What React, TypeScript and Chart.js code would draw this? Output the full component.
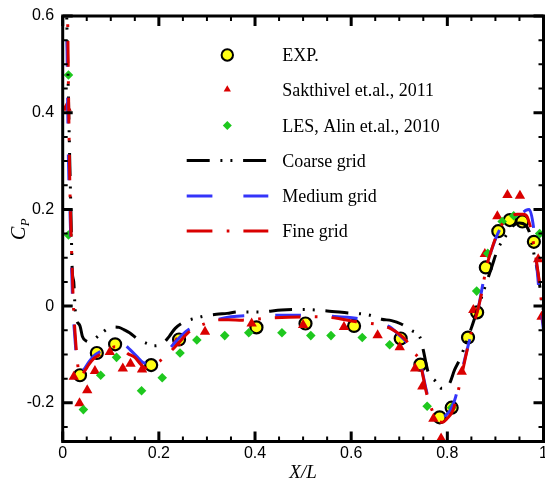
import React, { useEffect, useRef } from 'react';
import { Chart, registerables } from 'chart.js';

Chart.register(...registerables);

// ---------- data ----------
const X_TICKS = [0, 0.2, 0.4, 0.6, 0.8, 1];
const Y_TICKS = [-0.2, 0, 0.2, 0.4, 0.6];
const X_MINOR = [0, 0.05, 0.1, 0.15, 0.2, 0.25, 0.3, 0.35, 0.4, 0.45, 0.5, 0.55, 0.6, 0.65, 0.7, 0.75, 0.8, 0.85, 0.9, 0.95, 1];
const Y_MINOR = [-0.25, -0.2, -0.15, -0.1, -0.05, 0, 0.05, 0.1, 0.15, 0.2, 0.25, 0.3, 0.35, 0.4, 0.45, 0.5, 0.55, 0.6];

const EXP_X = [0.036, 0.071, 0.109, 0.184, 0.242, 0.403, 0.505, 0.606, 0.703, 0.744, 0.784, 0.809, 0.843, 0.862, 0.880, 0.906, 0.930, 0.956, 0.980];
const EXP_Y = [-0.143, -0.097, -0.079, -0.122, -0.069, -0.044, -0.036, -0.041, -0.067, -0.121, -0.230, -0.210, -0.065, -0.013, 0.080, 0.155, 0.178, 0.175, 0.133];

const SAK_X = [0.008, 0.023, 0.035, 0.051, 0.067, 0.098, 0.125, 0.141, 0.165, 0.236, 0.296, 0.393, 0.500, 0.585, 0.655, 0.701, 0.733, 0.748, 0.771, 0.787, 0.830, 0.854, 0.878, 0.904, 0.925, 0.951, 0.989, 0.996];
const SAK_Y = [0.410, -0.146, -0.201, -0.174, -0.134, -0.095, -0.129, -0.119, -0.131, -0.076, -0.053, -0.036, -0.039, -0.043, -0.060, -0.085, -0.129, -0.166, -0.233, -0.274, -0.136, -0.008, 0.108, 0.186, 0.230, 0.228, 0.097, -0.022];

const LES_X = [0.012, 0.012, 0.043, 0.079, 0.112, 0.164, 0.207, 0.244, 0.279, 0.337, 0.387, 0.456, 0.516, 0.558, 0.623, 0.680, 0.758, 0.809, 0.861, 0.884, 0.914, 0.938, 0.992];
const LES_Y = [0.478, 0.147, -0.214, -0.143, -0.106, -0.175, -0.148, -0.097, -0.070, -0.061, -0.055, -0.055, -0.061, -0.061, -0.065, -0.080, -0.207, -0.210, 0.031, 0.109, 0.175, 0.187, 0.150];

const CRS_X = [0.004, 0.008, 0.011, 0.014, 0.017, 0.020, 0.023, 0.025, 0.027, 0.036, 0.041, 0.049, 0.057, 0.070, 0.082, 0.095, 0.107, 0.117, 0.128, 0.139, 0.157, 0.175, 0.190, 0.199, 0.212, 0.222, 0.234, 0.254, 0.272, 0.292, 0.320, 0.342, 0.365, 0.410, 0.455, 0.500, 0.550, 0.594, 0.620, 0.639, 0.663, 0.684, 0.704, 0.725, 0.745, 0.750, 0.760, 0.775, 0.788, 0.797, 0.806, 0.815, 0.825, 0.836, 0.850, 0.865, 0.880, 0.892, 0.905, 0.920, 0.935, 0.950, 0.962, 0.970, 0.975, 0.982, 0.988, 0.992, 1.000];
const CRS_Y = [0.900, 0.620, 0.480, 0.330, 0.200, 0.070, 0.050, 0.010, -0.020, -0.041, -0.063, -0.072, -0.074, -0.065, -0.055, -0.046, -0.043, -0.044, -0.049, -0.055, -0.069, -0.077, -0.082, -0.081, -0.074, -0.062, -0.046, -0.032, -0.026, -0.021, -0.017, -0.015, -0.012, -0.012, -0.008, -0.007, -0.010, -0.014, -0.016, -0.019, -0.027, -0.030, -0.037, -0.050, -0.069, -0.091, -0.136, -0.155, -0.170, -0.170, -0.157, -0.132, -0.112, -0.084, -0.045, 0.000, 0.045, 0.080, 0.118, 0.143, 0.165, 0.172, 0.168, 0.155, 0.133, 0.099, 0.070, 0.043, -0.010];

const MED_X = [0.004, 0.008, 0.010, 0.012, 0.015, 0.018, 0.021, 0.025, 0.029, 0.035, 0.045, 0.055, 0.065, 0.075, 0.084, 0.095, 0.104, 0.115, 0.129, 0.140, 0.155, 0.168, 0.181, 0.200, 0.223, 0.240, 0.260, 0.290, 0.320, 0.350, 0.420, 0.500, 0.560, 0.610, 0.650, 0.680, 0.700, 0.720, 0.743, 0.750, 0.760, 0.772, 0.784, 0.798, 0.815, 0.830, 0.845, 0.862, 0.880, 0.895, 0.910, 0.925, 0.940, 0.955, 0.963, 0.970, 0.980, 0.985, 0.992, 1.000];
const MED_Y = [0.900, 0.620, 0.450, 0.300, 0.200, 0.100, 0.000, -0.060, -0.110, -0.142, -0.130, -0.115, -0.103, -0.096, -0.091, -0.082, -0.074, -0.075, -0.080, -0.090, -0.105, -0.117, -0.118, -0.104, -0.087, -0.068, -0.050, -0.037, -0.028, -0.022, -0.019, -0.019, -0.021, -0.025, -0.033, -0.043, -0.060, -0.080, -0.112, -0.145, -0.188, -0.210, -0.229, -0.225, -0.195, -0.135, -0.075, -0.015, 0.075, 0.125, 0.160, 0.178, 0.186, 0.192, 0.198, 0.200, 0.157, 0.095, 0.019, -0.050];

const FINE_X = [0.006, 0.010, 0.012, 0.014, 0.016, 0.019, 0.022, 0.026, 0.030, 0.036, 0.045, 0.055, 0.065, 0.078, 0.090, 0.100, 0.109, 0.118, 0.126, 0.135, 0.150, 0.162, 0.172, 0.180, 0.195, 0.213, 0.230, 0.245, 0.261, 0.280, 0.300, 0.317, 0.345, 0.374, 0.424, 0.470, 0.520, 0.570, 0.608, 0.635, 0.660, 0.685, 0.700, 0.715, 0.730, 0.743, 0.750, 0.757, 0.767, 0.778, 0.790, 0.800, 0.812, 0.825, 0.838, 0.850, 0.862, 0.872, 0.880, 0.893, 0.906, 0.918, 0.930, 0.945, 0.958, 0.966, 0.971, 0.975, 0.980, 0.985, 0.990, 0.995, 1.000];
const FINE_Y = [0.900, 0.620, 0.450, 0.300, 0.200, 0.100, 0.010, -0.060, -0.110, -0.145, -0.135, -0.120, -0.108, -0.100, -0.092, -0.087, -0.084, -0.085, -0.090, -0.098, -0.106, -0.120, -0.128, -0.127, -0.118, -0.105, -0.088, -0.072, -0.055, -0.043, -0.035, -0.029, -0.028, -0.029, -0.025, -0.023, -0.022, -0.025, -0.032, -0.035, -0.039, -0.048, -0.058, -0.072, -0.095, -0.115, -0.148, -0.181, -0.212, -0.236, -0.240, -0.232, -0.215, -0.165, -0.105, -0.053, -0.013, 0.030, 0.075, 0.120, 0.155, 0.175, 0.185, 0.190, 0.190, 0.185, 0.170, 0.154, 0.125, 0.095, 0.060, 0.015, -0.040];

const LABELS = ['EXP.', 'Sakthivel et.al., 2011', 'LES, Alin et.al., 2010', 'Coarse grid', 'Medium grid', 'Fine grid'];

const pts = (xs: number[], ys: number[]) => xs.map((x, i) => ({ x, y: ys[i] }));

// ---------- styles ----------
const RED = 'rgb(218,0,0)';
const BLUE = 'rgb(52,52,250)';
const GREEN = 'rgb(30,200,30)';
const YELLOW = 'rgb(255,255,20)';
const DASH_COARSE = [23, 10.7, 2, 8, 2, 10.7];
const DASH_MED = [25.7, 31];
const DASH_FINE = [25.7, 14.3, 2.7, 14];

const fmt = (v: number) => String(Math.round(v * 10) / 10);

const decor = {
  id: 'decor',
  afterDraw(chart: any) {
    const { ctx, chartArea: a, scales } = chart;
    const sx = scales.x;
    const sy = scales.y;
    ctx.save();
    ctx.strokeStyle = '#000';
    ctx.lineCap = 'butt';
    // ticks
    X_MINOR.forEach((v, i) => {
      const major = i % 4 === 0;
      const len = major ? 10 : 5;
      ctx.lineWidth = major ? 3 : 2;
      const px = sx.getPixelForValue(v);
      ctx.beginPath();
      ctx.moveTo(px, a.bottom);
      ctx.lineTo(px, a.bottom - len);
      ctx.moveTo(px, a.top);
      ctx.lineTo(px, a.top + len);
      ctx.stroke();
    });
    Y_MINOR.forEach((v) => {
      const major = Y_TICKS.some((t) => Math.abs(t - v) < 1e-6);
      const len = major ? 10 : 5;
      ctx.lineWidth = major ? 3 : 2;
      const py = sy.getPixelForValue(v);
      ctx.beginPath();
      ctx.moveTo(a.left, py);
      ctx.lineTo(a.left + len, py);
      ctx.moveTo(a.right, py);
      ctx.lineTo(a.right - len, py);
      ctx.stroke();
    });
    // frame
    ctx.lineWidth = 3;
    ctx.strokeRect(a.left, a.top, a.right - a.left, a.bottom - a.top);

    // x tick labels
    ctx.fillStyle = '#000';
    ctx.font = '16px "Liberation Sans"';
    ctx.textAlign = 'center';
    ctx.textBaseline = 'middle';
    X_TICKS.forEach((v) => {
      ctx.fillText(fmt(v), sx.getPixelForValue(v), 454);
    });

    // axis titles
    ctx.textAlign = 'center';
    ctx.textBaseline = 'alphabetic';
    ctx.font = 'italic 19px "Liberation Serif"';
    ctx.fillText('X/L', (a.left + a.right) / 2, 477.5);

    ctx.save();
    ctx.translate(25, 240);
    ctx.rotate(-Math.PI / 2);
    ctx.textAlign = 'left';
    ctx.font = 'italic 20px "Liberation Serif"';
    ctx.fillText('C', 0, 0);
    const cw = ctx.measureText('C').width;
    ctx.font = 'italic 13px "Liberation Serif"';
    ctx.fillText('P', cw + 0.5, 3.5);
    ctx.restore();

    // legend
    const rows = [55, 89.5, 125.5, 160.5, 196, 231];
    const mx = 227.3;
    const lx1 = 186.7;
    const lx2 = 268.3;
    const tx = 282.3;
    const ds = chart.data.datasets;
    ctx.font = '18px "Liberation Serif"';
    ctx.textAlign = 'left';
    ds.forEach((d: any, i: number) => {
      const y = rows[i];
      ctx.fillStyle = '#000';
      ctx.fillText(d.label, tx, y + 6);
      if (d.showLine) {
        ctx.save();
        ctx.strokeStyle = d.borderColor;
        ctx.lineWidth = 3;
        ctx.setLineDash(d.borderDash);
        ctx.beginPath();
        ctx.moveTo(lx1, y);
        ctx.lineTo(lx2, y);
        ctx.stroke();
        ctx.restore();
      } else if (d.pointStyle === 'circle') {
        ctx.beginPath();
        ctx.arc(mx, y, 5.7, 0, Math.PI * 2);
        ctx.fillStyle = d.backgroundColor;
        ctx.fill();
        ctx.lineWidth = 2;
        ctx.strokeStyle = '#000';
        ctx.stroke();
      } else if (d.pointStyle === 'triangle') {
        const r = 4.2;
        ctx.beginPath();
        ctx.moveTo(mx, y - r);
        ctx.lineTo(mx + r * 0.866, y + r * 0.5);
        ctx.lineTo(mx - r * 0.866, y + r * 0.5);
        ctx.closePath();
        ctx.fillStyle = d.backgroundColor;
        ctx.fill();
      } else {
        const r = 4.5;
        ctx.beginPath();
        ctx.moveTo(mx, y - r);
        ctx.lineTo(mx + r, y);
        ctx.lineTo(mx, y + r);
        ctx.lineTo(mx - r, y);
        ctx.closePath();
        ctx.fillStyle = d.backgroundColor;
        ctx.fill();
      }
    });
    ctx.restore();
  },
};

export default function App() {
  const ref = useRef<HTMLCanvasElement | null>(null);
  useEffect(() => {
    if (!ref.current) return;
    const lineDs = (label: string, xs: number[], ys: number[], color: string, dash: number[], order: number) => ({
      label,
      data: pts(xs, ys),
      showLine: true,
      borderColor: color,
      backgroundColor: color,
      borderWidth: 3,
      borderDash: dash,
      pointRadius: 0,
      pointHoverRadius: 0,
      cubicInterpolationMode: 'monotone',
      order,
    });
    const chart = new Chart(ref.current, {
      type: 'scatter',
      data: {
        datasets: [
          {
            label: LABELS[0],
            data: pts(EXP_X, EXP_Y),
            pointStyle: 'circle',
            pointRadius: 6,
            pointBorderWidth: 2.2,
            backgroundColor: YELLOW,
            borderColor: '#000',
            showLine: false,
            order: 6,
          },
          {
            label: LABELS[1],
            data: pts(SAK_X, SAK_Y),
            pointStyle: 'triangle',
            pointRadius: 6,
            pointBorderWidth: 0,
            backgroundColor: RED,
            borderColor: RED,
            showLine: false,
            order: 5,
          },
          {
            label: LABELS[2],
            data: pts(LES_X, LES_Y),
            pointStyle: 'rectRot',
            pointRadius: 4.8,
            pointBorderWidth: 0,
            backgroundColor: GREEN,
            borderColor: GREEN,
            showLine: false,
            order: 4,
          },
          lineDs(LABELS[3], CRS_X, CRS_Y, '#000', DASH_COARSE, 3),
          lineDs(LABELS[4], MED_X, MED_Y, BLUE, DASH_MED, 2),
          lineDs(LABELS[5], FINE_X, FINE_Y, RED, DASH_FINE, 1),
        ] as any,
      },
      options: {
        animation: false,
        responsive: false,
        maintainAspectRatio: false,
        events: [],
        layout: { autoPadding: false, padding: { left: 0, top: 16, right: 1.5, bottom: 0 } },
        plugins: { legend: { display: false }, tooltip: { enabled: false } },
        scales: {
          x: {
            type: 'linear',
            min: 0,
            max: 1,
            grid: { display: false, drawTicks: false },
            border: { display: false },
            ticks: { display: false },
            afterBuildTicks: (s: any) => {
              s.ticks = X_TICKS.map((v) => ({ value: v }));
            },
            afterFit: (s: any) => {
              s.height = 38.5;
              s.paddingLeft = 0;
              s.paddingRight = 0;
            },
          },
          y: {
            type: 'linear',
            min: -0.28,
            max: 0.6,
            grid: { display: false, drawTicks: false },
            border: { display: false },
            ticks: {
              font: { family: 'Liberation Sans', size: 16 },
              color: '#000',
              padding: 8.5,
              autoSkip: false,
              callback: (v: any) => fmt(Number(v)),
            },
            afterBuildTicks: (s: any) => {
              s.ticks = Y_TICKS.map((v) => ({ value: v }));
            },
            afterFit: (s: any) => {
              s.width = 62.7;
              s.paddingTop = 0;
              s.paddingBottom = 0;
            },
          },
        },
      } as any,
      plugins: [decor],
    });
    return () => chart.destroy();
  }, []);
  return (
    <div style={{ position: 'absolute', left: 0, top: 0, width: 545, height: 480, background: '#fff' }}>
      <canvas ref={ref} width={545} height={480} style={{ width: 545, height: 480, display: 'block' }} />
    </div>
  );
}
